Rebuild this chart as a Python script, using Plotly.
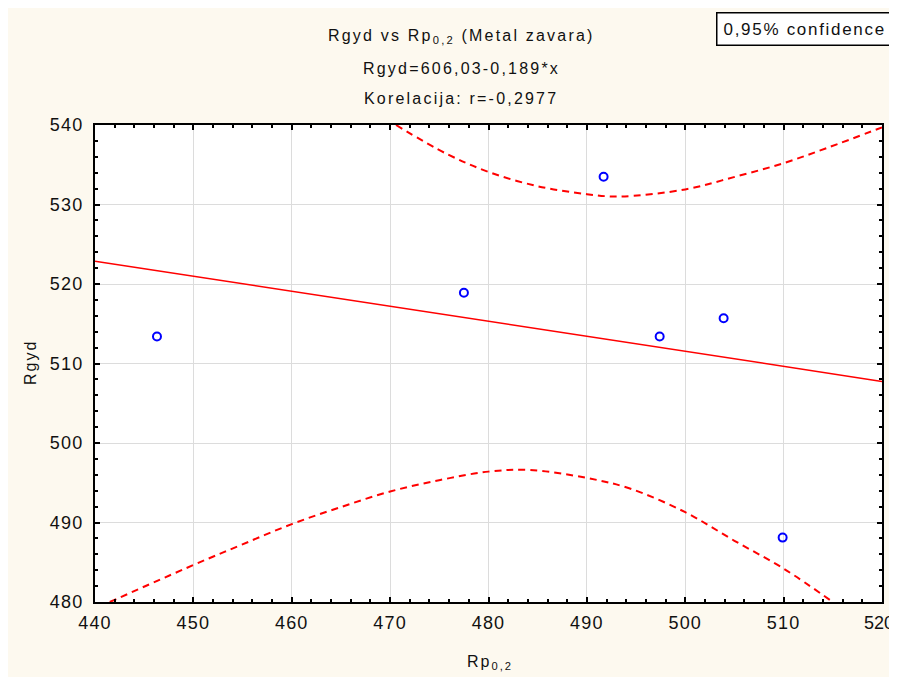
import plotly.graph_objects as go

# Data points
rp02 = [446.3, 477.5, 491.7, 497.4, 503.9, 509.9]
rgyd = [513.4, 518.9, 533.5, 513.4, 515.7, 488.1]

# Regression line
fit_x = [440, 520]
fit_y = [522.87, 507.75]

# Upper 95% confidence band
upper_x = [470.6, 475.7, 480, 485, 490, 493.3, 500, 505.1, 510, 514.6, 520]
upper_y = [540.0, 536.4, 534.1, 532.3, 531.3, 531.0, 531.9, 533.5, 535.2, 537.2, 539.7]

# Lower 95% confidence band
lower_x = [441.5, 450, 454.9, 460, 464.9, 470, 475.1, 480, 484.2, 490, 494.3, 500, 505, 510, 515]
lower_y = [480.0, 484.65, 487.2, 489.8, 491.9, 493.9, 495.35, 496.4, 496.6, 495.6, 494.3, 491.3, 487.7, 484.2, 480.0]

x_ticks = [440, 450, 460, 470, 480, 490, 500, 510, 520]
y_ticks = [480, 490, 500, 510, 520, 530, 540]

# figure sits 8px in from the page's top-left corner (body margin)
W, H = 889, 669
L, R, T, B = 87, 15, 117, 75
pw, ph = W - L - R, H - T - B

def px(screen_x):
    return (screen_x - 8 - L) / pw

def py(screen_y):
    return (H - B - (screen_y - 8)) / ph

def sp(text, ls):
    return '<span style="letter-spacing:%spx">%s</span>' % (ls, text)

FONT = "Liberation Sans, Arial, sans-serif"
CREAM = "#FDF9EF"
TXT = "#111111"

fig = go.Figure()
fig.add_trace(go.Scatter(x=upper_x, y=upper_y, mode="lines",
                         line=dict(color="#FF0000", width=2, dash="7px,5px", shape="spline"),
                         showlegend=False, hoverinfo="skip"))
fig.add_trace(go.Scatter(x=lower_x, y=lower_y, mode="lines",
                         line=dict(color="#FF0000", width=2, dash="7px,5px", shape="spline"),
                         showlegend=False, hoverinfo="skip"))
fig.add_trace(go.Scatter(x=fit_x, y=fit_y, mode="lines",
                         line=dict(color="#FF0000", width=1.5),
                         showlegend=False))
fig.add_trace(go.Scatter(x=rp02, y=rgyd, mode="markers",
                         marker=dict(symbol="circle-open", size=8, color="#0000FF",
                                     line=dict(width=2, color="#0000FF")),
                         showlegend=False))

axis_common = dict(
    showline=True, linecolor="black", linewidth=2, mirror="allticks",
    ticks="inside", ticklen=5, tickwidth=1.5, tickcolor="black",
    showgrid=True, gridcolor="#DCDCDC", gridwidth=1,
    zeroline=False,
    tickfont=dict(family=FONT, size=18, color=TXT),
    minor=dict(ticks="inside", ticklen=3, tickwidth=1.5, tickcolor="black", dtick=2, showgrid=False),
)

fig.update_xaxes(range=[440, 520], tickvals=x_ticks,
                 ticktext=[sp(str(v), 1.2) for v in x_ticks], ticklabelstandoff=3, **axis_common)
fig.update_yaxes(range=[480, 540], tickvals=y_ticks,
                 ticktext=[sp(str(v), 1.2) for v in y_ticks], ticklabelstandoff=6, **axis_common)

title_lines = [
    ("Rgyd vs Rp<sub>0,2</sub> (Metal zavara)", 37),
    ("Rgyd=606,03-0,189*x", 68),
    ("Korelacija: r=-0,2977", 99),
]
anns = []
for txt, ypix in title_lines:
    anns.append(dict(xref="paper", yref="paper", x=px(461), y=py(ypix), text=sp(txt, 2.2),
                     xanchor="center", yanchor="middle", showarrow=False,
                     font=dict(family=FONT, size=16, color=TXT)))

# last x tick label (the axis hides it because it would spill past the page edge)
anns.append(dict(xref="paper", yref="paper", x=px(895), y=py(623), text=str(x_ticks[-1]),
                 showarrow=False, xanchor="right", yanchor="middle", borderpad=0,
                 font=dict(family=FONT, size=18, color=TXT)))

anns.append(dict(xref="paper", yref="paper", x=px(30), y=py(363), text=sp("Rgyd", 2), textangle=-90,
                 showarrow=False, xanchor="center", yanchor="middle",
                 font=dict(family=FONT, size=16, color=TXT)))
anns.append(dict(xref="paper", yref="paper", x=px(490), y=py(662), text=sp("Rp<sub>0,2</sub>", 2),
                 showarrow=False, xanchor="center", yanchor="middle",
                 font=dict(family=FONT, size=16, color=TXT)))
anns.append(dict(xref="paper", yref="paper", x=px(716), y=py(12), text=sp("0,95% confidence", 1.7),
                 showarrow=False, xanchor="left", yanchor="top",
                 bgcolor="white", bordercolor="black", borderwidth=1.5, borderpad=6,
                 font=dict(family=FONT, size=17, color=TXT)))

fig.update_layout(
    width=W, height=H,
    margin=dict(l=L, r=R, t=T, b=B),
    paper_bgcolor=CREAM, plot_bgcolor="white",
    annotations=anns,
    showlegend=False,
)

fig.write_html("out.html")
